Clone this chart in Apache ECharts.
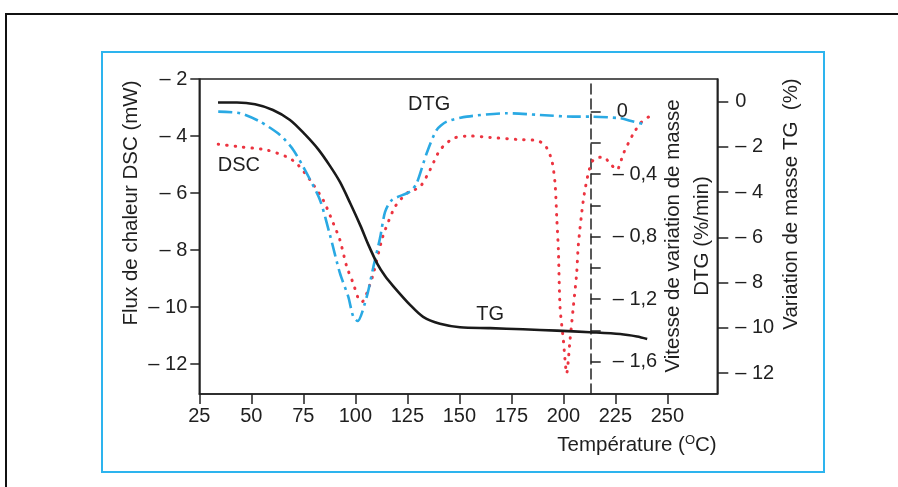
<!DOCTYPE html>
<html>
<head>
<meta charset="utf-8">
<script src="https://cdn.jsdelivr.net/npm/echarts@6/dist/echarts.min.js"></script>
<style>
  html, body { margin: 0; padding: 0; background: #fff; }
  #chart { width: 898px; height: 487px; }
</style>
</head>
<body>
<div id="chart"></div>
<script>
// Axis ticks
const temperatureTicks = [25, 50, 75, 100, 125, 150, 175, 200, 225, 250];
const dscTicks = [-2, -4, -6, -8, -10, -12];
const dtgTicks = [0, -0.2, -0.4, -0.6, -0.8, -1.0, -1.2, -1.4, -1.6];
const dtgLabelTicks = [0, -0.4, -0.8, -1.2, -1.6];
const tgTicks = [0, -2, -4, -6, -8, -10, -12];

// TG: mass change (%) against temperature (°C)
const tgTemp   = [34.0, 43.1, 51.8, 60.4, 68.6, 75.8, 82.1, 87.8, 92.6, 97.5, 102.5, 106.3, 110.6, 114.3, 118.1, 126.3, 132.6, 140.7, 150.3, 164.8, 180.6, 196.9, 212.8, 227.3, 235.4, 240.3];
const tgValues = [-0.04, -0.04, -0.12, -0.37, -0.81, -1.45, -2.10, -2.84, -3.55, -4.48, -5.49, -6.33, -7.17, -7.71, -8.14, -8.98, -9.51, -9.82, -9.97, -10.01, -10.06, -10.12, -10.19, -10.27, -10.38, -10.49];

// DTG: rate of mass change (%/min)
const dtgTemp   = [34.1, 44.6, 54.2, 63.8, 70.2, 76.6, 83.0, 87.8, 92.6, 96.6, 99.0, 101.1, 105.5, 108.7, 111.9, 114.3, 117.6, 126.3, 129.5, 134.3, 139.1, 143.9, 153.6, 172.8, 188.8, 204.8, 213.2, 227.3, 232.1, 240.1];
const dtgValues = [0, -0.01, -0.064, -0.149, -0.245, -0.394, -0.565, -0.789, -1.034, -1.184, -1.312, -1.34, -1.184, -0.992, -0.808, -0.642, -0.565, -0.512, -0.458, -0.266, -0.117, -0.064, -0.032, -0.01, -0.021, -0.032, -0.032, -0.042, -0.058, -0.085];

// DSC: heat flow (mW)
const dscTemp   = [34.1, 44.6, 57.4, 67.0, 71.8, 78.2, 84.6, 89.4, 92.6, 95.9, 99.0, 101.4, 103.2, 105.5, 108.7, 112.7, 114.3, 119.1, 124.7, 131.1, 135.9, 140.7, 147.2, 155.2, 164.8, 177.6, 187.2, 191.2, 194.4, 196.0, 196.8, 197.6, 198.4, 200.0, 201.6, 203.2, 204.8, 206.4, 207.2, 209.6, 212.0, 214.4, 219.2, 222.4, 225.7, 228.9, 233.7, 237.7, 242.5];
const dscValues = [-4.29, -4.38, -4.49, -4.73, -4.96, -5.54, -6.25, -7.06, -7.65, -8.59, -9.17, -9.69, -9.82, -9.52, -8.82, -7.65, -7.30, -6.48, -6.01, -5.78, -5.19, -4.49, -4.08, -4.00, -4.05, -4.12, -4.16, -4.32, -4.84, -5.66, -6.83, -8.0, -9.99, -11.16, -12.33, -11.16, -9.99, -8.82, -7.82, -6.25, -5.31, -4.84, -4.73, -4.96, -5.19, -4.61, -3.91, -3.50, -3.26];

const zip = (xs, ys) => xs.map((x, i) => [x, ys[i]]);

const FONT = 'Liberation Sans';
const INK = '#1f1f1f';
const AXIS = '#222';

const labelStyle = { fontFamily: FONT, fontSize: 20, color: INK };

const minus = v => (v === 0 ? '0' : '\u2013 ' + Math.abs(v));
const minusComma = v => (v === 0 ? '{z|0}' : '\u2013 ' + Math.abs(v).toFixed(1).replace('.', ','));

const chart = echarts.init(document.getElementById('chart'), null, { renderer: 'canvas' });

chart.setOption({
  animation: false,
  backgroundColor: '#fff',
  grid: {
    left: 199.3, top: 79, right: 180.7, bottom: 93,
    show: true, borderColor: AXIS, borderWidth: 1.5, backgroundColor: 'transparent'
  },
  xAxis: {
    type: 'value', min: 25, max: 274,
    axisLine: { onZero: false, lineStyle: { color: AXIS, width: 1.5 } },
    axisTick: { customValues: temperatureTicks, length: 10, lineStyle: { color: AXIS, width: 1.5 } },
    axisLabel: Object.assign({ customValues: temperatureTicks, margin: 12 }, labelStyle),
    splitLine: { show: false }
  },
  yAxis: [
    {
      type: 'value', position: 'left', min: -13.05, max: -2,
      axisLine: { show: true, onZero: false, lineStyle: { color: AXIS, width: 1.5 } },
      axisTick: { customValues: dscTicks, length: 9, lineStyle: { color: AXIS, width: 1.5 } },
      axisLabel: Object.assign({ customValues: dscTicks, margin: 12, formatter: minus }, labelStyle),
      splitLine: { show: false }
    },
    {
      type: 'value', position: 'right', offset: -126.6, min: -1.807, max: 0.209,
      axisLine: { show: true, onZero: false, lineStyle: { color: AXIS, width: 1.5, type: [10, 5] } },
      axisTick: { customValues: dtgTicks, length: 10, lineStyle: { color: AXIS, width: 1.5 } },
      axisLabel: Object.assign({
        customValues: dtgLabelTicks, margin: 22, formatter: minusComma,
        rich: { z: { fontFamily: FONT, fontSize: 20, color: INK, padding: [0, 0, 0, 4] } }
      }, labelStyle),
      splitLine: { show: false }
    },
    {
      type: 'value', position: 'right', offset: 0, min: -12.92, max: 1.0,
      axisLine: { show: true, onZero: false, lineStyle: { color: AXIS, width: 1.5 } },
      axisTick: { customValues: tgTicks, length: 11, lineStyle: { color: AXIS, width: 1.5 } },
      axisLabel: Object.assign({ customValues: tgTicks, margin: 18, formatter: minus }, labelStyle),
      splitLine: { show: false }
    }
  ],
  series: [
    {
      name: 'DSC', type: 'line', yAxisIndex: 0, data: zip(dscTemp, dscValues),
      showSymbol: false, symbol: 'none', smooth: 0.25,
      lineStyle: { color: '#ec3440', width: 3, type: [0.5, 8], cap: 'round' },
      markPoint: {
        symbol: 'circle', symbolSize: 0, silent: true,
        label: { show: true, position: 'inside', fontFamily: FONT, fontSize: 20, color: INK, formatter: 'DSC' },
        data: [{ coord: [44.0, -5.05] }]
      }
    },
    {
      name: 'DTG', type: 'line', yAxisIndex: 1, data: zip(dtgTemp, dtgValues),
      showSymbol: false, symbol: 'none', smooth: 0.25,
      lineStyle: { color: '#2aa9e3', width: 2.6, type: [14, 5, 3, 5] },
      markPoint: {
        symbol: 'circle', symbolSize: 0, silent: true,
        label: { show: true, position: 'inside', fontFamily: FONT, fontSize: 20, color: INK, formatter: 'DTG' },
        data: [{ coord: [135.5, 0.046] }]
      }
    },
    {
      name: 'TG', type: 'line', yAxisIndex: 2, data: zip(tgTemp, tgValues),
      showSymbol: false, symbol: 'none', smooth: 0.3,
      lineStyle: { color: '#1a1a1a', width: 2.6 },
      markPoint: {
        symbol: 'circle', symbolSize: 0, silent: true,
        label: { show: true, position: 'inside', fontFamily: FONT, fontSize: 20, color: INK, formatter: 'TG' },
        data: [{ coord: [164.8, -9.39] }]
      }
    }
  ],
  graphic: [
    // outer page rule
    { type: 'polyline', silent: true, shape: { points: [[6, 487], [6, 14], [898, 14]] },
      style: { stroke: '#111', lineWidth: 2, fill: null } },
    // figure frame
    { type: 'rect', silent: true, shape: { x: 102, y: 52, width: 722, height: 420 },
      style: { stroke: '#2db4ee', lineWidth: 2, fill: null } },
    // axis titles
    { type: 'text', silent: true, x: 131, y: 203, rotation: Math.PI / 2,
      style: { text: 'Flux de chaleur DSC (mW)', fontFamily: FONT, fontSize: 20.5, fill: INK, align: 'center', verticalAlign: 'middle' } },
    { type: 'text', silent: true, x: 687.5, y: 236, rotation: Math.PI / 2,
      style: { text: 'Vitesse de variation de masse\nDTG (%/min)', fontFamily: FONT, fontSize: 20.5, lineHeight: 29, fill: INK, align: 'center', verticalAlign: 'middle' } },
    { type: 'text', silent: true, x: 791, y: 204, rotation: Math.PI / 2,
      style: { text: 'Variation de masse TG  (%)', fontFamily: FONT, fontSize: 20.5, fill: INK, align: 'center', verticalAlign: 'middle' } },
    { type: 'text', silent: true, x: 637, y: 445,
      style: {
        text: '{a|Température (}{s|O}{a|C)}', align: 'center', verticalAlign: 'middle',
        rich: {
          a: { fontFamily: FONT, fontSize: 20.5, fill: INK },
          s: { fontFamily: FONT, fontSize: 13, fill: INK, padding: [0, 0, 10, 0] }
        }
      } }
  ]
});
</script>
</body>
</html>
